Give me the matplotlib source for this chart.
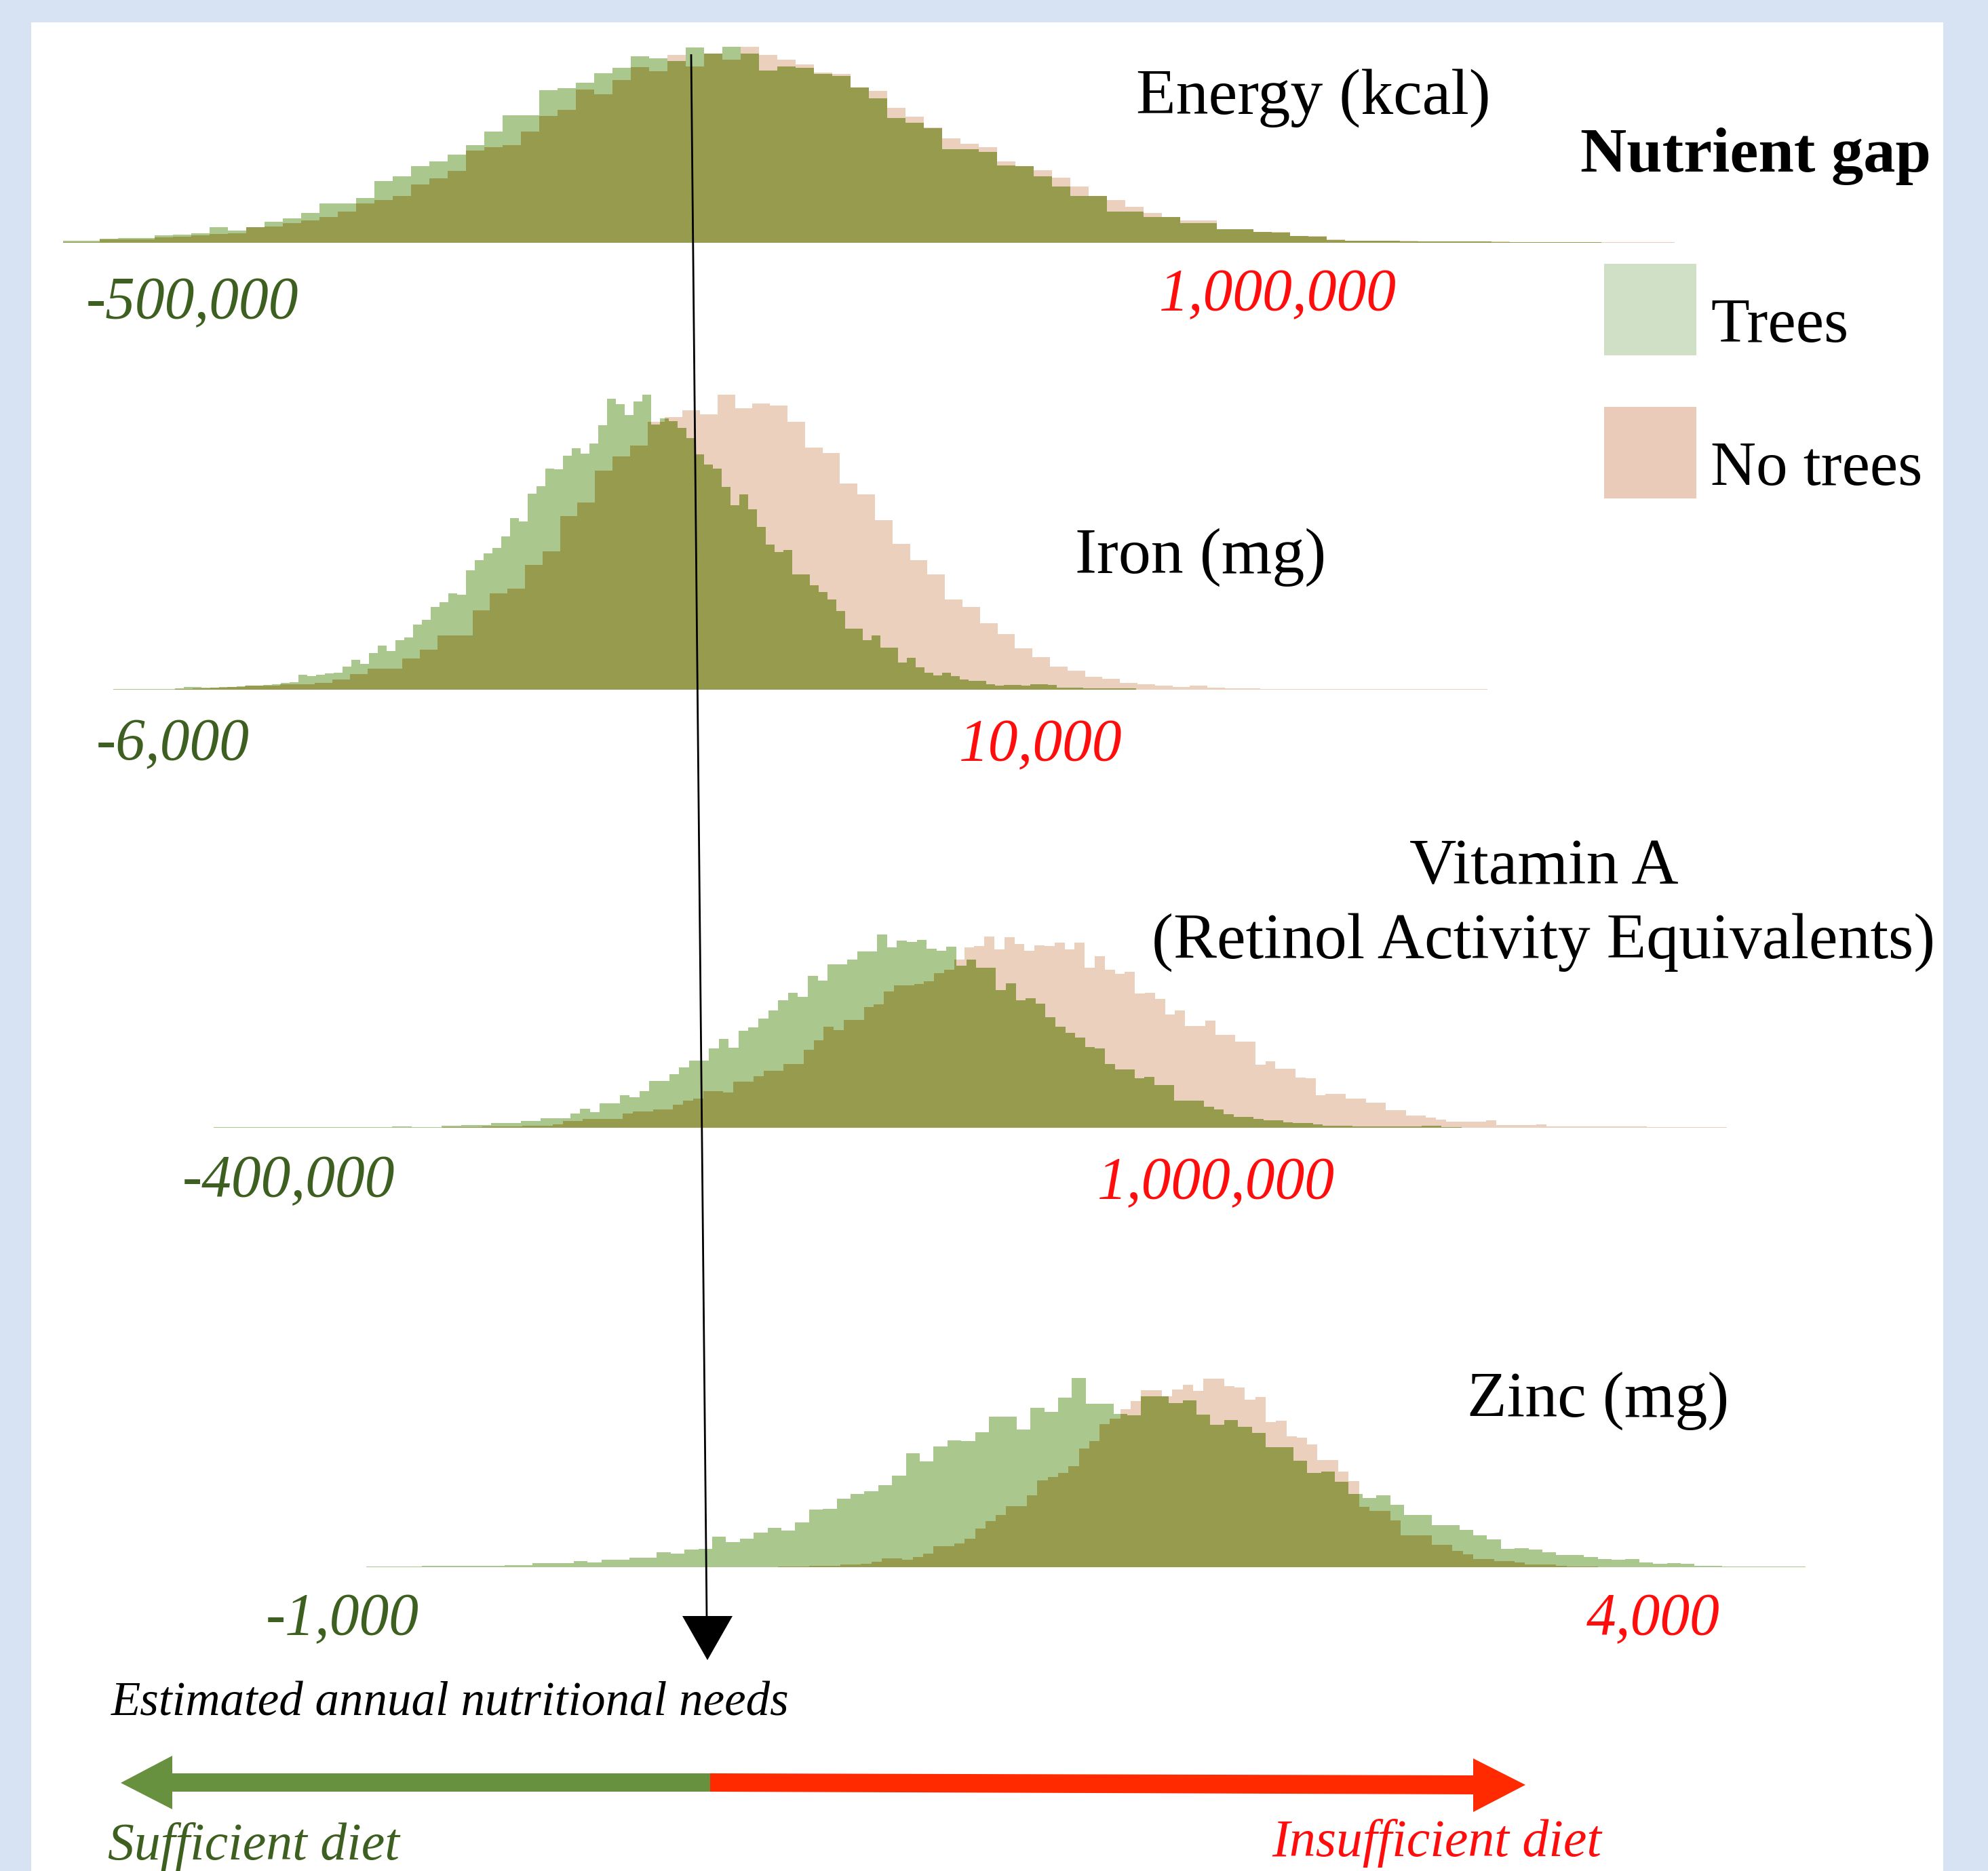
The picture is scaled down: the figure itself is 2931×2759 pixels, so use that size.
import numpy as np
import matplotlib.pyplot as plt
from matplotlib.patches import Rectangle, Polygon

W, H = 2931, 2759

# Histogram counts (arbitrary count units), one bin grid per series:
# (first edge, bin width) on the shared horizontal scale of the graphic.
energy_trees = [3, 3, 6, 7, 7, 11, 12, 14, 23, 18, 23, 31, 36, 44, 58, 58, 66, 91, 98, 113,
                120, 130, 144, 164, 188, 188, 225, 228, 236, 250, 258, 275, 272, 268, 288, 279,
                289, 279, 254, 260, 258, 249, 246, 229, 213, 184, 177, 169, 138, 138, 134, 114,
                113, 98, 83, 69, 69, 46, 46, 38, 38, 29, 29, 20, 20, 16, 15, 10, 9, 4,
                3, 3, 3, 2, 2, 2, 2, 2, 1, 1, 1, 1, 1, 1, 0.5, 0, 0, 0]
energy_no_trees = [1, 1, 5, 5, 5, 8, 9, 11, 13, 14, 23, 24, 29, 33, 38, 46, 58, 63, 69, 86,
                   95, 106, 136, 141, 144, 164, 187, 196, 226, 219, 240, 259, 253, 277, 260, 279,
                   270, 289, 277, 270, 263, 251, 249, 229, 224, 199, 186, 170, 154, 146, 141, 120,
                   113, 107, 96, 83, 69, 63, 53, 44, 38, 33, 33, 20, 20, 16, 16, 10, 10, 5,
                   3, 3, 3, 3, 2, 2, 2, 2, 2, 1, 1, 1, 1, 1, 1, 1, 1, 1]
energy_trees_bins = (93, 27.0)
energy_no_trees_bins = (93, 27.0)

iron_trees = [1, 1, 1, 1, 1, 1, 1, 2, 4, 4, 3, 3, 4, 4, 5, 6, 6, 7, 8, 10,
              11, 22, 20, 22, 24, 25, 34, 44, 38, 54, 65, 57, 73, 77, 96, 103, 122, 129, 142, 140,
              176, 191, 201, 209, 226, 253, 248, 289, 300, 326, 325, 345, 356, 348, 363, 390, 429, 421, 405, 425,
              435, 391, 400, 396, 386, 371, 347, 332, 326, 299, 272, 288, 266, 240, 214, 203, 206, 170, 170, 154,
              144, 133, 116, 90, 90, 73, 80, 62, 62, 40, 47, 33, 25, 21, 25, 20, 15, 13, 13, 8,
              6, 7, 7, 6, 8, 8, 7, 3, 3, 3, 2, 2, 2, 2, 2, 2]
iron_no_trees = [1, 2, 3, 4, 6, 6, 8, 8, 10, 15, 23, 31, 31, 46, 59, 80, 80, 117, 142, 149,
                 184, 204, 256, 276, 323, 344, 360, 395, 402, 412, 406, 435, 415, 422, 419, 395, 357, 349, 304, 288,
                 250, 215, 191, 170, 133, 122, 98, 82, 61, 48, 34, 28, 19, 16, 10, 8, 6, 4, 6, 3,
                 2, 2, 1, 1, 1, 1, 1, 1, 1, 1, 1, 1, 1, 1, 1]
iron_trees_bins = (167, 13.0)
iron_no_trees_bins = (258, 25.8)

vita_trees = [1, 1, 1, 1, 1, 1, 1, 1, 1, 1, 1, 1, 1, 1, 1, 1, 1, 1, 2, 2,
              1, 1, 1, 3, 3, 4, 4, 4, 7, 7, 7, 10, 10, 14, 14, 14, 21, 28, 23, 36,
              36, 48, 45, 54, 69, 69, 79, 89, 99, 99, 117, 131, 118, 143, 148, 161, 173, 188, 199, 193,
              224, 217, 241, 241, 248, 260, 260, 285, 266, 276, 274, 277, 264, 261, 267, 239, 248, 236, 236, 203,
              213, 188, 191, 183, 163, 149, 140, 133, 119, 117, 94, 86, 86, 73, 75, 63, 63, 40, 40, 40,
              31, 27, 20, 16, 16, 13, 11, 11, 8, 7, 7, 5, 3, 3, 3, 2, 2, 2, 2, 2,
              2, 2, 3, 3, 1, 1]
vita_no_trees = [0.5, 0.5, 0.5, 0.5, 0.5, 1, 1, 1, 1, 2, 2, 2, 2, 3, 3, 3, 5, 10, 10, 13,
                 13, 13, 13, 21, 24, 24, 27, 27, 34, 40, 43, 54, 54, 52, 68, 68, 76, 84, 84, 94,
                 94, 115, 129, 149, 144, 159, 159, 178, 182, 201, 210, 210, 212, 216, 228, 233, 248, 266, 268, 282,
                 263, 281, 271, 261, 269, 268, 273, 263, 273, 236, 253, 233, 227, 230, 198, 199, 190, 167, 173, 150,
                 150, 158, 137, 137, 127, 127, 93, 98, 87, 87, 74, 73, 48, 50, 50, 43, 43, 37, 37, 26,
                 26, 18, 18, 15, 12, 9, 9, 9, 9, 11, 4, 4, 4, 4, 5, 2, 2, 2, 2, 2,
                 2, 2, 2, 2, 2, 1, 1, 1, 1, 1, 1, 1, 1]
vita_trees_bins = (315, 14.6)
vita_no_trees_bins = (578, 14.8)

zinc_trees = [1, 1, 1, 1, 2, 2, 2, 2, 2, 2, 3, 3, 6, 6, 6, 9, 7, 11, 11, 14,
              14, 22, 20, 26, 27, 45, 37, 42, 51, 58, 54, 66, 85, 86, 101, 108, 112, 121, 135, 168,
              156, 178, 187, 186, 199, 222, 222, 203, 235, 229, 250, 279, 241, 241, 226, 224, 252, 252, 242, 246,
              225, 210, 217, 207, 198, 177, 177, 157, 139, 141, 126, 108, 102, 106, 92, 77, 77, 62, 62, 55,
              47, 41, 27, 28, 26, 22, 18, 18, 15, 12, 11, 12, 7, 5, 6, 5, 2, 2, 1, 1,
              1, 1, 1, 1]
zinc_no_trees = [0.5, 0.5, 0.5, 0.5, 0.5, 0.5, 1, 1, 1, 2, 2, 2, 4, 4, 5, 8, 13, 13, 11, 15,
                 20, 31, 31, 35, 42, 57, 68, 77, 90, 90, 106, 128, 133, 139, 149, 175, 186, 211, 219, 233,
                 245, 261, 261, 252, 262, 269, 260, 278, 278, 267, 265, 247, 251, 214, 216, 193, 191, 181, 158, 158,
                 141, 127, 89, 83, 83, 69, 47, 47, 47, 33, 33, 24, 19, 12, 12, 9, 9, 7, 4, 4,
                 4, 2, 1, 1, 1, 0.5, 0.5, 0.5, 0.5, 0.5, 0.5, 0.5, 0.5]
zinc_trees_bins = (540, 20.4)
zinc_no_trees_bins = (1055, 15.3)

panel_titles = ['Energy (kcal)', 'Iron (mg)', 'Vitamin A\n(Retinol Activity Equivalents)', 'Zinc (mg)']
low_labels = ['-500,000', '-6,000', '-400,000', '-1,000']
high_labels = ['1,000,000', '10,000', '1,000,000', '4,000']
legend_labels = ['Trees', 'No trees']

GREEN = '#aac78e'
PEACH = '#ebd0be'
OLIVE = '#979b4d'
DARK_GREEN = '#3d5f1f'
RED = '#ff0d0d'
SERIF = 'Liberation Serif'


def _edges(bins, n):
    start, width = bins
    return start + width * np.arange(n + 1)


def _overlap(tv, te, nv, ne):
    # shared part of the two histograms, evaluated on the union of both bin grids
    edges = np.union1d(te, ne)
    mids = (edges[:-1] + edges[1:]) / 2

    def at(vals, e):
        idx = np.searchsorted(e, mids) - 1
        out = np.zeros(len(mids))
        ok = (idx >= 0) & (idx < len(vals))
        out[ok] = np.asarray(vals, dtype=float)[idx[ok]]
        return out

    return np.minimum(at(tv, te), at(nv, ne)), edges


fig = plt.figure(figsize=(W / 100, H / 100), dpi=100)
fig.patch.set_facecolor('#d7e3f2')

bg = fig.add_axes([0, 0, 1, 1], zorder=0)
bg.set_xlim(0, W)
bg.set_ylim(H, 0)
bg.axis('off')
bg.add_patch(Rectangle((46, 33), 2819, H, color='white', lw=0))

panels = [
    (energy_trees, energy_trees_bins, energy_no_trees, energy_no_trees_bins, 358),
    (iron_trees, iron_trees_bins, iron_no_trees, iron_no_trees_bins, 1017),
    (vita_trees, vita_trees_bins, vita_no_trees, vita_no_trees_bins, 1663),
    (zinc_trees, zinc_trees_bins, zinc_no_trees, zinc_no_trees_bins, 2311),
]
axh = 500
for tv, tb, nv, nb, base in panels:
    ax = fig.add_axes([0, 1 - base / H, 1, axh / H], zorder=1)
    ax.set_xlim(0, W)
    ax.set_ylim(0, axh)
    ax.axis('off')
    ax.patch.set_alpha(0)
    te = _edges(tb, len(tv))
    ne = _edges(nb, len(nv))
    ax.stairs(nv, ne, fill=True, color=PEACH, lw=0)
    ax.stairs(tv, te, fill=True, color=GREEN, lw=0)
    ov_vals, ov_edges = _overlap(tv, te, nv, ne)
    ax.stairs(ov_vals, ov_edges, fill=True, color=OLIVE, lw=0)

ov = fig.add_axes([0, 0, 1, 1], zorder=2)
ov.set_xlim(0, W)
ov.set_ylim(H, 0)
ov.axis('off')
ov.patch.set_alpha(0)

# panel titles (baseline of first line; further lines 110 px lower)
title_pos = [(1936, 168), (1770, 845), (2276, 1303), (2356, 2089)]
for t, (x, y) in zip(panel_titles, title_pos):
    for k, line in enumerate(t.split('\n')):
        ov.text(x, y + 110 * k, line, ha='center', va='baseline', fontsize=69, family=SERIF)

# value labels under each histogram
low_pos = [(283, 469), (255, 1120), (426, 1764), (505, 2410)]
high_pos = [(1884, 457), (1534, 1121), (1793, 1767), (2437, 2410)]
for lab, (x, y) in zip(low_labels, low_pos):
    ov.text(x, y, lab, ha='center', va='baseline', fontsize=63, family=SERIF,
            style='italic', color=DARK_GREEN)
for lab, (x, y) in zip(high_labels, high_pos):
    ov.text(x, y, lab, ha='center', va='baseline', fontsize=63, family=SERIF,
            style='italic', color=RED)

# legend
ov.text(2330, 253, 'Nutrient gap', ha='left', va='baseline', fontsize=68,
        family=SERIF, weight='bold')
for lab, col, top in zip(legend_labels, ['#cfe0c6', '#eacbba'], [389, 600]):
    ov.add_patch(Rectangle((2365, top), 136, 135, color=col, lw=0))
    ov.text(2522, top + 115, lab, ha='left', va='baseline', fontsize=67, family=SERIF)

# nutritional needs pointer
ov.plot([1019, 1042], [80, 2386], color='black', lw=2, solid_capstyle='butt')
ov.add_patch(Polygon([(1006, 2383), (1080, 2383), (1043, 2448)], closed=True,
                     color='black', lw=0))
ov.text(164, 2529, 'Estimated annual nutritional needs', ha='left', va='baseline',
        fontsize=51, family=SERIF, style='italic')

# sufficiency arrow
ov.add_patch(Polygon([(178, 2629), (254, 2589), (254, 2615), (1047, 2615),
                      (1047, 2642), (254, 2642), (254, 2668)],
                     closed=True, color='#67913f', lw=0))
ov.add_patch(Polygon([(1047, 2615), (2172, 2618), (2172, 2593), (2249, 2632),
                      (2172, 2672), (2172, 2646), (1047, 2642)],
                     closed=True, color='#ff2a00', lw=0))
ov.text(159, 2742, 'Sufficient diet', ha='left', va='baseline', fontsize=56,
        family=SERIF, style='italic', color=DARK_GREEN)
ov.text(1875, 2737, 'Insufficient diet', ha='left', va='baseline', fontsize=56,
        family=SERIF, style='italic', color=RED)

fig.savefig('out.png', dpi=100)
